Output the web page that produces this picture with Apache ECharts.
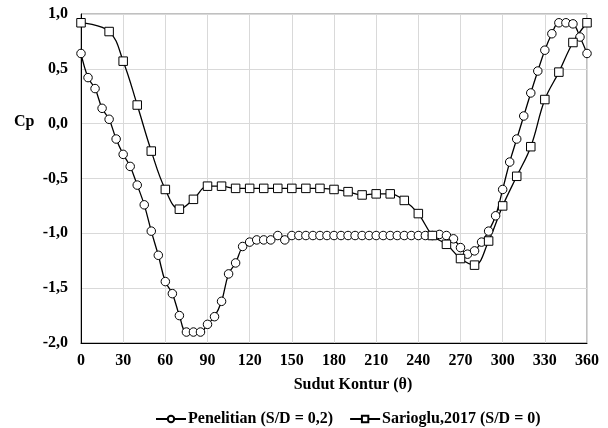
<!DOCTYPE html>
<html>
<head>
<meta charset="utf-8">
<script src="https://cdn.jsdelivr.net/npm/echarts@6/dist/echarts.min.js"></script>
<style>
html,body{margin:0;padding:0;background:#fff;}
#chart{width:608px;height:428px;}
</style>
</head>
<body>
<div id="chart"></div>
<script>
// Penelitian (S/D = 0,2): angle (deg) and Cp
var penelitianAngle = [0,5,10,15,20,25,30,35,40,45,50,55,60,65,70,75,80,85,90,95,100,105,110,115,120,125,130,135,140,145,150,155,160,165,170,175,180,185,190,195,200,205,210,215,220,225,230,235,240,245,250,255,260,265,270,275,280,285,290,295,300,305,310,315,320,325,330,335,340,345,350,355,360];
var penelitianCp = [0.64,0.42,0.32,0.14,0.04,-0.14,-0.28,-0.39,-0.56,-0.74,-0.98,-1.20,-1.44,-1.55,-1.75,-1.90,-1.90,-1.90,-1.83,-1.76,-1.62,-1.37,-1.27,-1.12,-1.08,-1.06,-1.06,-1.06,-1.02,-1.06,-1.02,-1.02,-1.02,-1.02,-1.02,-1.02,-1.02,-1.02,-1.02,-1.02,-1.02,-1.02,-1.02,-1.02,-1.02,-1.02,-1.02,-1.02,-1.02,-1.02,-1.02,-1.01,-1.02,-1.05,-1.13,-1.19,-1.16,-1.08,-0.98,-0.84,-0.60,-0.35,-0.14,0.07,0.28,0.48,0.67,0.82,0.92,0.92,0.91,0.79,0.64];

// Sarioglu,2017 (S/D = 0)
var sariogluAngle = [0,20,30,40,50,60,70,80,90,100,110,120,130,140,150,160,170,180,190,200,210,220,230,240,250,260,270,280,290,300,310,320,330,340,350,360];
var sariogluCp = [0.92,0.84,0.57,0.17,-0.25,-0.60,-0.78,-0.69,-0.57,-0.57,-0.59,-0.59,-0.59,-0.59,-0.59,-0.59,-0.59,-0.60,-0.62,-0.65,-0.64,-0.64,-0.70,-0.82,-1.02,-1.10,-1.23,-1.29,-1.07,-0.75,-0.48,-0.21,0.22,0.47,0.74,0.92];

var seriesNames = ['Penelitian (S/D = 0,2)', 'Sarioglu,2017 (S/D = 0)'];
var xTicks = {min: 0, max: 360, step: 30};
var yTicks = {min: -2, max: 1, step: 0.5};

function pairs(a, b) { return a.map(function (v, i) { return [v, b[i]]; }); }

var FONT = '"Liberation Serif", "Times New Roman", serif';
var chart = echarts.init(document.getElementById('chart'), null, {renderer: 'canvas'});
chart.setOption({
  animation: false,
  backgroundColor: '#fff',
  grid: {left: 81, right: 21, top: 14, bottom: 85, show: true, borderColor: '#808080', borderWidth: 1, backgroundColor: 'transparent'},
  graphic: [{
    type: 'text', left: 14, top: 114,
    style: {text: 'Cp', font: 'bold 16px ' + FONT, fill: '#000'}
  }],
  legend: {
    data: seriesNames, left: 150, top: 406,
    itemWidth: 30, itemHeight: 8, itemGap: 16,
    textStyle: {fontFamily: FONT, fontWeight: 'bold', fontSize: 16, color: '#000', padding: [0,0,0,-3]}
  },
  xAxis: {
    type: 'value', min: xTicks.min, max: xTicks.max, interval: xTicks.step,
    name: 'Sudut Kontur (θ)', nameLocation: 'middle', nameGap: 34,
    nameTextStyle: {fontFamily: FONT, fontWeight: 'bold', fontSize: 16, color: '#000', padding: [0,0,0,38]},
    axisLine: {onZero: false, lineStyle: {color: '#000', width: 1}},
    axisTick: {show: false},
    axisLabel: {fontFamily: FONT, fontWeight: 'bold', fontSize: 16, color: '#000', margin: 10},
    splitLine: {show: true, lineStyle: {color: '#d9d9d9', width: 1}}
  },
  yAxis: {
    type: 'value', min: yTicks.min, max: yTicks.max, interval: yTicks.step,
    axisLine: {show: true, onZero: false, lineStyle: {color: '#000', width: 1}},
    axisTick: {show: false},
    axisLabel: {fontFamily: FONT, fontWeight: 'bold', fontSize: 16, color: '#000', margin: 13,
      formatter: function (v) { return v.toFixed(1).replace('.', ','); }},
    splitLine: {show: true, lineStyle: {color: '#d9d9d9', width: 1}}
  },
  series: [
    {
      name: seriesNames[0], type: 'line', data: pairs(penelitianAngle, penelitianCp),
      smooth: 0.4, symbol: 'circle', symbolSize: 8.5, showAllSymbol: true,
      lineStyle: {color: '#000', width: 1.3},
      itemStyle: {color: '#fff', borderColor: '#000', borderWidth: 1}
    },
    {
      name: seriesNames[1], type: 'line', data: pairs(sariogluAngle, sariogluCp),
      smooth: 0.4, symbol: 'rect', symbolSize: 8.5, showAllSymbol: true,
      lineStyle: {color: '#000', width: 1.3},
      itemStyle: {color: '#fff', borderColor: '#000', borderWidth: 1}
    }
  ]
});
</script>
</body>
</html>
